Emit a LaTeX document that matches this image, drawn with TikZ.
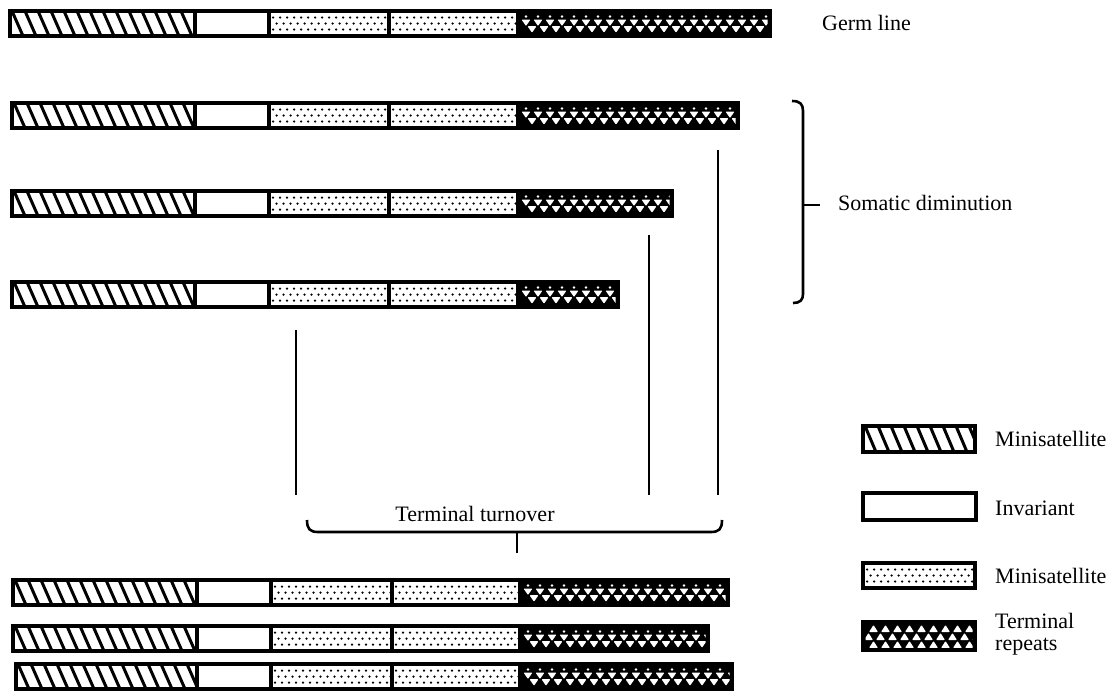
\documentclass[tikz,border=0pt]{standalone}
\usepackage{fontspec}
\setmainfont{Liberation Serif}
\tikzset{
  barline/.style={line width=3.2pt},
  conn/.style={line width=2.6pt},
  lbl/.style={font=\fontsize{22}{25}\selectfont, inner sep=0pt, anchor=west},
}
% hatched segment
\newcommand\hseg[4]{%
  \fill[white] (#1,#2) rectangle (#3,#4);
  \begin{scope}
    \clip (#1,#2) rectangle (#3,#4);
    \pgfmathtruncatemacro\segn{(#3-#1)/13+2}
    \foreach \i in {0,...,\segn} \draw[line width=3pt] (#1-11+\i*13,#2) -- ++(11,#4-#2);
  \end{scope}
  \draw[barline] (#1,#2) rectangle (#3,#4);}
% plain segment
\newcommand\pseg[4]{%
  \draw[barline,fill=white] (#1,#2) rectangle (#3,#4);}
% dotted segment
\newcommand\dseg[4]{%
  \fill[white] (#1,#2) rectangle (#3,#4);
  \begin{scope}
    \clip (#1+2,#2+2) rectangle (#3-2,#4-2);
    \pgfmathtruncatemacro\segn{(#3-#1)/7}
    \foreach \i in {0,...,\segn}{
      \fill (#1+4+\i*7,#2+6.5) circle (1.25pt);
      \fill (#1+7.5+\i*7,#2+12.5) circle (1.25pt);
      \fill (#1+4+\i*7,#2+18.5) circle (1.25pt);}
  \end{scope}
  \draw[barline] (#1,#2) rectangle (#3,#4);}
% terminal repeats segment (downward triangles)
\newcommand\tseg[4]{%
  \fill[black] (#1,#2) rectangle (#3,#4);
  \begin{scope}
    \clip (#1+2.5,#2+2.5) rectangle (#3-2.5,#4-2.5);
    \pgfmathtruncatemacro\segn{(#3-#1)/12+1}
    \foreach \i in {0,...,\segn}{
      \fill[white] (#1+8+\i*12,#2+5.5) circle (1.4pt);
      \fill[white,rounded corners=0.8pt] (#1+3.5+\i*12,#2+8.5) -- ++(9,0) -- ++(-4.5,6.5) -- cycle;
      \fill[white,rounded corners=0.8pt] (#1+9.5+\i*12,#2+15.2) -- ++(9,0) -- ++(-4.5,6.5) -- cycle;}
  \end{scope}
  \draw[barline] (#1,#2) rectangle (#3,#4);}
% terminal repeats legend (upward triangles)
\newcommand\tlegend[4]{%
  \fill[black] (#1,#2) rectangle (#3,#4);
  \begin{scope}
    \clip (#1+2.5,#2+2.5) rectangle (#3-2.5,#4-2.5);
    \pgfmathtruncatemacro\segn{(#3-#1)/12+1}
    \foreach \i in {0,...,\segn}{
      \fill[white,rounded corners=0.8pt] (#1+6+\i*12,#2+10) -- ++(9,0) -- ++(-4.5,-7) -- cycle;
      \fill[white,rounded corners=0.8pt] (#1+1+\i*12,#2+18) -- ++(9,0) -- ++(-4.5,-7) -- cycle;
      \fill[white,rounded corners=0.8pt] (#1+6+\i*12,#2+26) -- ++(9,0) -- ++(-4.5,-7) -- cycle;}
  \end{scope}
  \draw[barline] (#1,#2) rectangle (#3,#4);}
% full bar: x0, y top, end, boundaries b1 b2 b3 b4
\newcommand\genebar[7]{%
  \hseg{#1}{#2}{#4}{#2+25}
  \pseg{#4}{#2}{#5}{#2+25}
  \dseg{#5}{#2}{#6}{#2+25}
  \dseg{#6}{#2}{#7}{#2+25}
  \tseg{#7}{#2}{#3}{#2+25}}
\begin{document}
\begin{tikzpicture}[x=1pt,y=-1pt]
\useasboundingbox (0,0) rectangle (1113,691);

% bars
\genebar{10}{11}{770}{195}{269}{389}{518}
\genebar{12}{103}{738}{195}{269}{389}{518}
\genebar{12}{191}{672}{195}{269}{389}{518}
\genebar{12}{282}{618}{195}{269}{389}{518}
\genebar{13}{580}{728}{197}{271}{392}{520}
\genebar{13}{626}{708}{197}{271}{392}{520}
\genebar{16}{664}{732}{197}{271}{392}{520}

\node[lbl] (germ) at (822,23) {Germ line};

% somatic diminution brace
\coordinate (st) at (792,101);
\coordinate (sb) at (793,303);
\coordinate (sm) at (803,205);
\coordinate (smr) at (820,205);
\draw[conn] (st) .. controls (800,101) and (803,104) .. (803,111) -- (803,294)
  .. controls (803,300) and (800,303) .. (sb);
\node[lbl] (som) at (838,203) {Somatic diminution};
\draw[conn] (sm) -- (smr);

% vertical lines
\coordinate (v1t) at (296,330); \coordinate (v1b) at (296,495);
\coordinate (v2t) at (649,235); \coordinate (v2b) at (649,495);
\coordinate (v3t) at (718,150); \coordinate (v3b) at (718,495);
\draw[conn] (v1t) -- (v1b);
\draw[conn] (v2t) -- (v2b);
\draw[conn] (v3t) -- (v3b);

% terminal turnover brace
\node[lbl,anchor=center] (tt) at (475,514) {Terminal turnover};
\coordinate (bl) at (307,520);
\coordinate (br) at (722,520);
\coordinate (bm) at (517,532);
\coordinate (bt) at (517,553);
\draw[conn] (bl) .. controls (307,529) and (310,532) .. (318,532) -- (711,532)
  .. controls (719,532) and (722,529) .. (br);
\draw[conn] (bm) -- (bt);

% legend
\hseg{863}{426}{975}{452}
\node[lbl] (l1) at (995,439) {Minisatellite};
\pseg{863}{493}{976}{520}
\node[lbl] (l2) at (995,508) {Invariant};
\dseg{863}{563}{975}{588}
\node[lbl] (l3) at (995,576) {Minisatellite};
\tlegend{863}{622}{975}{650}
\node[lbl,align=left,font=\fontsize{22}{22}\selectfont] (l4) at (995,634) {Terminal\\repeats};

\end{tikzpicture}
\end{document}
